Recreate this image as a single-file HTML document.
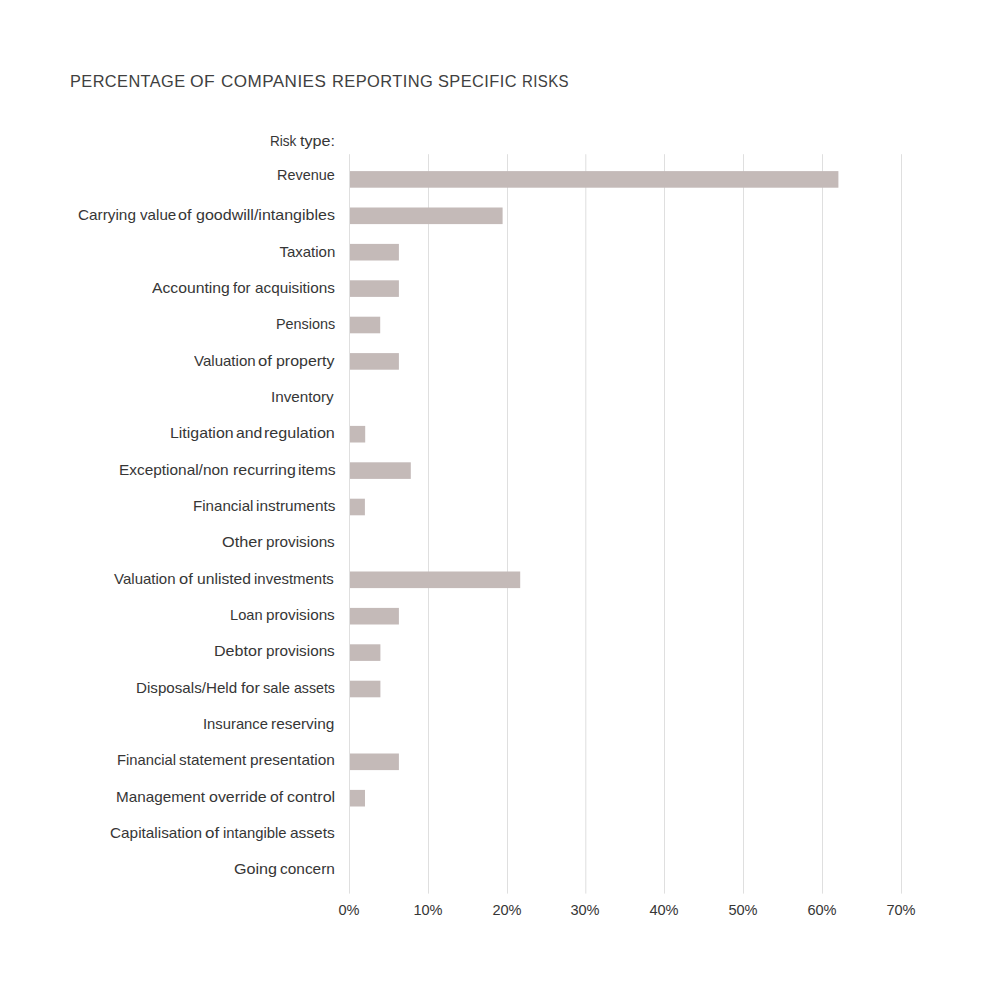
<!DOCTYPE html>
<html><head><meta charset="utf-8"><style>
html,body{margin:0;padding:0;background:#fff;}
body{width:1000px;height:1001px;position:relative;overflow:hidden;font-family:"Liberation Sans",sans-serif;color:#363636;}
.t{position:absolute;white-space:nowrap;line-height:1;}
.l{position:absolute;white-space:nowrap;line-height:1;font-size:15.00px;transform-origin:100% 0;text-align:right;}
.g{position:absolute;top:154px;height:740px;width:1px;background:#dfdfdf;}
.b{position:absolute;height:16.6px;left:350px;background:#c4bab8;}
.w{position:absolute;white-space:nowrap;line-height:1;font-size:15.00px;transform-origin:0 0;}
.k{position:absolute;white-space:nowrap;line-height:1;font-size:15.20px;width:60px;text-align:center;}
</style></head><body>

<div class="t" style="left:69.60px;top:73.00px;font-size:16.50px;letter-spacing:0.430px;transform-origin:0 0;transform:scaleX(0.9895);color:#404040">PERCENTAGE</div>
<div class="t" style="left:189.80px;top:73.00px;font-size:16.50px;letter-spacing:0.430px;transform-origin:0 0;transform:scaleX(1.0592);color:#404040">OF</div>
<div class="t" style="left:221.20px;top:73.00px;font-size:16.50px;letter-spacing:0.430px;transform-origin:0 0;transform:scaleX(1.0354);color:#404040">COMPANIES</div>
<div class="t" style="left:332.40px;top:73.00px;font-size:16.50px;letter-spacing:0.430px;transform-origin:0 0;transform:scaleX(0.9960);color:#404040">REPORTING</div>
<div class="t" style="left:438.00px;top:73.00px;font-size:16.50px;letter-spacing:0.430px;transform-origin:0 0;transform:scaleX(0.9922);color:#404040">SPECIFIC</div>
<div class="t" style="left:522.00px;top:73.00px;font-size:16.50px;letter-spacing:0.430px;transform-origin:0 0;transform:scaleX(0.9101);color:#404040">RISKS</div>
<svg style="position:absolute;left:0;top:0" width="1000" height="1001" viewBox="0 0 1000 1001"><rect x="349.00" y="154.20" width="1" height="739.40" fill="#dfdfdf"/><rect x="428.00" y="154.20" width="1" height="739.40" fill="#dfdfdf"/><rect x="507.00" y="154.20" width="1" height="739.40" fill="#dfdfdf"/><rect x="585.30" y="154.20" width="1" height="739.40" fill="#dfdfdf"/><rect x="664.00" y="154.20" width="1" height="739.40" fill="#dfdfdf"/><rect x="743.00" y="154.20" width="1" height="739.40" fill="#dfdfdf"/><rect x="822.00" y="154.20" width="1" height="739.40" fill="#dfdfdf"/><rect x="901.00" y="154.20" width="1" height="739.40" fill="#dfdfdf"/><rect x="350" y="171.10" width="488.40" height="16.60" fill="#c4bab8"/><rect x="350" y="207.50" width="152.60" height="16.60" fill="#c4bab8"/><rect x="350" y="243.90" width="48.90" height="16.60" fill="#c4bab8"/><rect x="350" y="280.30" width="48.90" height="16.60" fill="#c4bab8"/><rect x="350" y="316.70" width="30.20" height="16.60" fill="#c4bab8"/><rect x="350" y="353.10" width="48.90" height="16.60" fill="#c4bab8"/><rect x="350" y="425.90" width="15.20" height="16.60" fill="#c4bab8"/><rect x="350" y="462.30" width="60.80" height="16.60" fill="#c4bab8"/><rect x="350" y="498.70" width="14.90" height="16.60" fill="#c4bab8"/><rect x="350" y="571.50" width="170.20" height="16.60" fill="#c4bab8"/><rect x="350" y="607.90" width="48.90" height="16.60" fill="#c4bab8"/><rect x="350" y="644.30" width="30.40" height="16.60" fill="#c4bab8"/><rect x="350" y="680.70" width="30.40" height="16.60" fill="#c4bab8"/><rect x="350" y="753.50" width="48.90" height="16.60" fill="#c4bab8"/><rect x="350" y="789.90" width="15.00" height="16.60" fill="#c4bab8"/></svg>
<div class="w" style="left:270.34px;top:132.90px;transform:scaleX(0.9054)">Risk</div>
<div class="w" style="left:300.40px;top:132.90px;transform:scaleX(1.0774)">type:</div>
<div class="w" style="left:276.64px;top:167.00px;transform:scaleX(0.9627)">Revenue</div>
<div class="w" style="left:77.68px;top:206.90px;transform:scaleX(1.0218)">Carrying</div>
<div class="w" style="left:139.60px;top:206.90px;transform:scaleX(1.0114)">value</div>
<div class="w" style="left:178.03px;top:206.90px;transform:scaleX(1.0750)">of</div>
<div class="w" style="left:195.53px;top:206.90px;transform:scaleX(1.0682)">goodwill/intangibles</div>
<div class="w" style="left:279.40px;top:243.80px;transform:scaleX(1.0000)">Taxation</div>
<div class="w" style="left:152.10px;top:280.10px;transform:scaleX(1.0493)">Accounting</div>
<div class="w" style="left:233.10px;top:280.10px;transform:scaleX(1.0000)">for</div>
<div class="w" style="left:254.88px;top:280.10px;transform:scaleX(1.0195)">acquisitions</div>
<div class="w" style="left:275.84px;top:316.30px;transform:scaleX(0.9600)">Pensions</div>
<div class="w" style="left:193.70px;top:353.10px;transform:scaleX(1.0033)">Valuation</div>
<div class="w" style="left:258.19px;top:353.10px;transform:scaleX(1.1083)">of</div>
<div class="w" style="left:275.84px;top:353.10px;transform:scaleX(1.0630)">property</div>
<div class="w" style="left:271.38px;top:389.10px;transform:scaleX(1.0164)">Inventory</div>
<div class="w" style="left:170.24px;top:425.20px;transform:scaleX(1.0586)">Litigation</div>
<div class="w" style="left:235.95px;top:425.20px;transform:scaleX(1.0522)">and</div>
<div class="w" style="left:264.43px;top:425.20px;transform:scaleX(1.0750)">regulation</div>
<div class="w" style="left:119.47px;top:461.80px;transform:scaleX(1.0267)">Exceptional/non</div>
<div class="w" style="left:232.74px;top:461.80px;transform:scaleX(1.0614)">recurring</div>
<div class="w" style="left:297.65px;top:461.80px;transform:scaleX(1.0500)">items</div>
<div class="w" style="left:192.99px;top:498.10px;transform:scaleX(1.0069)">Financial</div>
<div class="w" style="left:255.58px;top:498.10px;transform:scaleX(1.0237)">instruments</div>
<div class="w" style="left:222.31px;top:534.00px;transform:scaleX(1.0861)">Other</div>
<div class="w" style="left:266.18px;top:534.00px;transform:scaleX(1.0182)">provisions</div>
<div class="w" style="left:114.10px;top:570.90px;transform:scaleX(1.0000)">Valuation</div>
<div class="w" style="left:179.00px;top:570.90px;transform:scaleX(1.1000)">of</div>
<div class="w" style="left:197.06px;top:570.90px;transform:scaleX(1.0440)">unlisted</div>
<div class="w" style="left:254.40px;top:570.90px;transform:scaleX(0.9975)">investments</div>
<div class="w" style="left:229.83px;top:606.90px;transform:scaleX(0.9750)">Loan</div>
<div class="w" style="left:266.18px;top:606.90px;transform:scaleX(1.0182)">provisions</div>
<div class="w" style="left:214.43px;top:642.80px;transform:scaleX(1.0727)">Debtor</div>
<div class="w" style="left:266.18px;top:642.80px;transform:scaleX(1.0182)">provisions</div>
<div class="w" style="left:136.39px;top:679.90px;transform:scaleX(1.0112)">Disposals/Held</div>
<div class="w" style="left:241.40px;top:679.90px;transform:scaleX(1.0706)">for</div>
<div class="w" style="left:263.22px;top:679.90px;transform:scaleX(0.9808)">sale</div>
<div class="w" style="left:294.06px;top:679.90px;transform:scaleX(0.9429)">assets</div>
<div class="w" style="left:203.41px;top:715.90px;transform:scaleX(0.9859)">Insurance</div>
<div class="w" style="left:271.47px;top:715.90px;transform:scaleX(1.0267)">reserving</div>
<div class="w" style="left:117.02px;top:752.00px;transform:scaleX(0.9845)">Financial</div>
<div class="w" style="left:179.08px;top:752.00px;transform:scaleX(1.0200)">statement</div>
<div class="w" style="left:249.97px;top:752.00px;transform:scaleX(1.0272)">presentation</div>
<div class="w" style="left:115.88px;top:788.80px;transform:scaleX(1.0172)">Management</div>
<div class="w" style="left:208.94px;top:788.80px;transform:scaleX(1.0642)">override</div>
<div class="w" style="left:269.95px;top:788.80px;transform:scaleX(1.0500)">of</div>
<div class="w" style="left:287.13px;top:788.80px;transform:scaleX(1.0698)">control</div>
<div class="w" style="left:109.88px;top:825.10px;transform:scaleX(1.0227)">Capitalisation</div>
<div class="w" style="left:204.97px;top:825.10px;transform:scaleX(1.1333)">of</div>
<div class="w" style="left:222.71px;top:825.10px;transform:scaleX(0.9889)">intangible</div>
<div class="w" style="left:289.67px;top:825.10px;transform:scaleX(1.0333)">assets</div>
<div class="w" style="left:233.92px;top:861.00px;transform:scaleX(1.0763)">Going</div>
<div class="w" style="left:279.87px;top:861.00px;transform:scaleX(1.0288)">concern</div>
<div class="k" style="left:319.10px;top:901.60px;transform:scaleX(0.960)">0%</div>
<div class="k" style="left:398.10px;top:901.60px;transform:scaleX(0.960)">10%</div>
<div class="k" style="left:477.10px;top:901.60px;transform:scaleX(0.960)">20%</div>
<div class="k" style="left:555.40px;top:901.60px;transform:scaleX(0.960)">30%</div>
<div class="k" style="left:634.10px;top:901.60px;transform:scaleX(0.960)">40%</div>
<div class="k" style="left:713.10px;top:901.60px;transform:scaleX(0.960)">50%</div>
<div class="k" style="left:792.10px;top:901.60px;transform:scaleX(0.960)">60%</div>
<div class="k" style="left:871.10px;top:901.60px;transform:scaleX(0.960)">70%</div>
</body></html>
